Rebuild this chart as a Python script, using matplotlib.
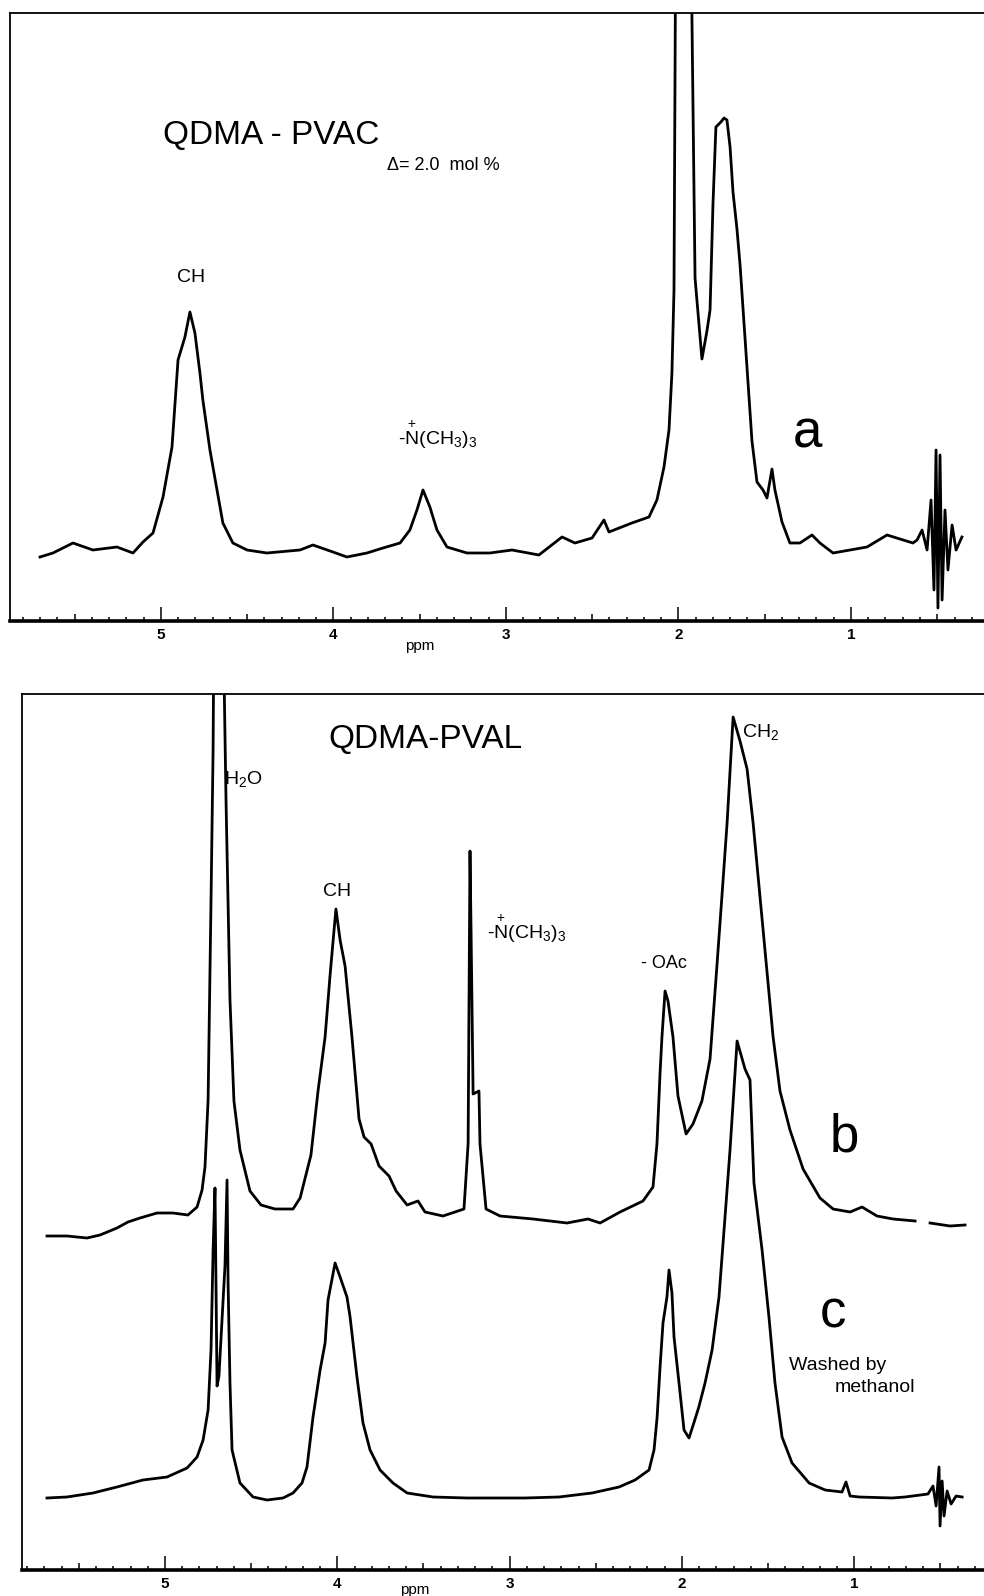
import numpy as np
import matplotlib
matplotlib.use('Agg')
import matplotlib.pyplot as plt
from matplotlib import font_manager
from matplotlib.ticker import MultipleLocator, FuncFormatter

# ---- spectrum a : QDMA-PVAC (ppm, intensity in arbitrary units) ----
ppm_a = [5.701, 5.626, 5.510, 5.394, 5.255, 5.162, 5.104, 5.046, 4.988, 4.936,
         4.901, 4.861, 4.832, 4.803, 4.774, 4.757, 4.716, 4.675, 4.641, 4.583,
         4.501, 4.386, 4.194, 4.119, 4.003, 3.922, 3.806, 3.713, 3.614, 3.557,
         3.516, 3.481, 3.441, 3.400, 3.342, 3.226, 3.093, 2.965, 2.809, 2.675,
         2.600, 2.501, 2.432, 2.403, 2.270, 2.171, 2.125, 2.084, 2.055, 2.038,
         2.026, 2.014, 1.933, 1.922, 1.904, 1.864, 1.835, 1.817, 1.800, 1.783,
         1.754, 1.736, 1.719, 1.701, 1.684, 1.661, 1.643, 1.603, 1.574, 1.545,
         1.510, 1.487, 1.458, 1.441, 1.400, 1.354, 1.296, 1.226, 1.180, 1.104,
         0.907, 0.791, 0.716, 0.641, 0.617, 0.588, 0.559, 0.536, 0.519, 0.507,
         0.496, 0.484, 0.472, 0.455, 0.438, 0.414, 0.391, 0.357]
int_a = [63, 67, 77, 70, 73, 67, 78, 87, 123, 173,
         260, 283, 308, 287, 247, 220, 170, 130, 97, 77,
         70, 67, 70, 75, 68, 63, 67, 72, 77, 90,
         110, 130, 113, 90, 73, 67, 67, 70, 65, 83,
         77, 82, 100, 88, 97, 103, 120, 153, 190, 247,
         330, 760, 760, 602, 342, 261, 289, 310, 416, 493,
         498, 502, 500, 473, 428, 391, 355, 253, 179, 138,
         130, 122, 151, 130, 98, 77, 77, 85, 77, 67,
         73, 85, 81, 77, 80, 90, 70, 120, 30, 170,
         12, 165, 20, 110, 50, 95, 70, 83]

# ---- spectrum b : QDMA-PVAL ----
ppm_b = [5.685, 5.569, 5.453, 5.377, 5.279, 5.215, 5.145, 5.046, 4.954, 4.867,
         4.814, 4.785, 4.768, 4.750, 4.733, 4.721, 4.716, 4.663, 4.646, 4.623,
         4.600, 4.565, 4.507, 4.443, 4.362, 4.257, 4.216, 4.153, 4.112, 4.071,
         4.042, 4.019, 4.008, 3.984, 3.955, 3.915, 3.874, 3.845, 3.804, 3.758,
         3.700, 3.659, 3.595, 3.532, 3.491, 3.387, 3.265, 3.241, 3.230, 3.224,
         3.212, 3.178, 3.172, 3.137, 3.056, 2.864, 2.667, 2.545, 2.475, 2.359,
         2.226, 2.168, 2.145, 2.127, 2.116, 2.098, 2.081, 2.052, 2.023, 1.976,
         1.936, 1.884, 1.837, 1.797, 1.767, 1.738, 1.703, 1.663, 1.622, 1.587,
         1.529, 1.471, 1.431, 1.373, 1.297, 1.199, 1.123, 1.024, 0.955, 0.868,
         0.775, 0.647, 0.600, 0.560, 0.444, 0.357]
int_b = [330, 330, 328, 331, 338, 344, 348, 353, 353, 351,
         359, 376, 399, 466, 666, 816, 950, 950, 766, 566,
         465, 416, 375, 361, 357, 357, 368, 411, 475, 529,
         591, 636, 657, 626, 600, 529, 447, 429, 422, 400,
         390, 375, 361, 365, 354, 350, 357, 422, 715, 636,
         472, 475, 422, 357, 350, 347, 343, 347, 343, 354,
         365, 379, 422, 493, 529, 575, 565, 529, 470, 432,
         442, 465, 507, 600, 672, 743, 849, 825, 797, 743,
         636, 529, 475, 436, 397, 368, 357, 354, 359, 350,
         347, 345, np.nan, 343, 340, 341]

# ---- spectrum c : washed by methanol ----
ppm_c = [5.685, 5.569, 5.418, 5.279, 5.128, 4.988, 4.872, 4.814, 4.779, 4.750,
         4.733, 4.721, 4.710, 4.698, 4.687, 4.652, 4.640, 4.634, 4.623, 4.611,
         4.565, 4.489, 4.408, 4.315, 4.257, 4.205, 4.176, 4.141, 4.100, 4.071,
         4.054, 4.013, 3.984, 3.944, 3.926, 3.886, 3.851, 3.810, 3.752, 3.677,
         3.595, 3.445, 3.247, 3.102, 2.911, 2.713, 2.522, 2.365, 2.272, 2.191,
         2.162, 2.144, 2.127, 2.110, 2.087, 2.075, 2.058, 2.046, 2.017, 1.988,
         1.959, 1.931, 1.902, 1.866, 1.825, 1.785, 1.750, 1.721, 1.680, 1.634,
         1.605, 1.582, 1.535, 1.495, 1.460, 1.419, 1.361, 1.262, 1.169, 1.071,
         1.048, 1.024, 0.972, 0.781, 0.705, 0.572, 0.543, 0.525, 0.508, 0.502,
         0.490, 0.479, 0.461, 0.438, 0.409, 0.374]
int_c = [68, 69, 73, 79, 86, 89, 98, 109, 126, 156,
         216, 316, 378, 180, 190, 300, 386, 283, 183, 116,
         83, 69, 66, 68, 73, 83, 99, 149, 196, 223,
         266, 303, 289, 269, 249, 189, 143, 116, 96, 83,
         73, 69, 68, 68, 68, 69, 73, 79, 86, 96,
         116, 149, 199, 243, 269, 296, 273, 229, 183, 136,
         128, 143, 159, 183, 216, 269, 349, 416, 525, 497,
         486, 383, 316, 249, 183, 129, 103, 83, 76, 74,
         84, 70, 69, 68, 69, 72, 80, 60, 99, 40,
         85, 50, 75, 62, 70, 69]

W, H = 984, 1596
names = {f.name for f in font_manager.fontManager.ttflist}
SANS = 'Liberation Sans' if 'Liberation Sans' in names else 'DejaVu Sans'
NARROW = 'Liberation Sans Narrow' if 'Liberation Sans Narrow' in names else SANS
plt.rcParams['font.family'] = SANS
plt.rcParams['mathtext.fontset'] = 'custom'
plt.rcParams['mathtext.rm'] = SANS
plt.rcParams['mathtext.it'] = SANS + ':italic'
plt.rcParams['mathtext.bf'] = SANS + ':bold'

fig = plt.figure(figsize=(W / 100, H / 100), dpi=100)


def px_axes(left, top, right, bottom):
    return fig.add_axes([left / W, 1 - bottom / H, (right - left) / W, (bottom - top) / H])


def label(x, y, s, size, ha='left', va='center', **kw):
    fig.text(x / W, 1 - y / H, s, fontsize=size, ha=ha, va=va, **kw)


def style_axis(ax):
    ax.spines['right'].set_visible(False)
    ax.spines['left'].set_linewidth(1.3)
    ax.spines['top'].set_linewidth(1.3)
    ax.spines['bottom'].set_linewidth(2.6)
    ax.set_yticks([])
    ax.xaxis.set_major_locator(MultipleLocator(0.5))
    ax.xaxis.set_minor_locator(MultipleLocator(0.1))
    ax.xaxis.set_major_formatter(FuncFormatter(
        lambda v, p: '%d' % round(v) if abs(v - round(v)) < 1e-6 else ''))
    ax.tick_params(axis='x', which='both', direction='in', top=False, width=1.1,
                   color='black')
    ax.tick_params(axis='x', which='major', length=5, pad=5, labelsize=11)
    ax.tick_params(axis='x', which='minor', length=3)
    for lab in ax.get_xticklabels():
        lab.set_fontfamily(NARROW)
        lab.set_fontweight('bold')
    for loc, tick in zip(ax.xaxis.get_majorticklocs(), ax.xaxis.get_major_ticks()):
        if abs(loc - round(loc)) < 1e-6:
            tick.tick1line.set_markersize(10)


# top panel (a)
ax_a = px_axes(10, 13, 984, 621)
ax_a.plot(ppm_a, int_a, color='black', lw=2.0)
ax_a.set_xlim(5.875, 0.229)
ax_a.set_ylim(-1, 607)
style_axis(ax_a)

# bottom panel (b, c)
ax_bc = px_axes(22, 694, 984, 1570)
ax_bc.plot(ppm_b, int_b, color='black', lw=2.0)
ax_bc.plot(ppm_c, int_c, color='black', lw=2.0)
ax_bc.set_xlim(5.83, 0.247)
ax_bc.set_ylim(-4, 872)
style_axis(ax_bc)

nme = r'-$\overset{+}{\mathrm{N}}$(CH$_3$)$_3$'

# annotations, panel a
label(163, 135, 'QDMA - PVAC', 24)
label(387, 165, 'Δ= 2.0  mol %', 13)
label(191, 277, 'CH', 14, ha='center')
label(398, 445, nme, 14, va='baseline')
label(793, 447, 'a', 38, va='baseline')
label(420, 646, 'ppm', 11, ha='center')

# annotations, panel b/c
label(328, 740, 'QDMA-PVAL', 24)
label(224, 784, r'H$_2$O', 14, va='baseline')
label(337, 891, 'CH', 14, ha='center')
label(487, 939, nme, 14, va='baseline')
label(641, 964, '- OAc', 13)
label(742, 737, r'CH$_2$', 14, va='baseline')
label(830, 1151, 'b', 38, va='baseline')
label(820, 1328, 'c', 38, va='baseline')
label(789, 1365, 'Washed by', 14)
label(835, 1388, 'methanol', 14)
label(415, 1590, 'ppm', 11, ha='center')

fig.savefig('out.png', dpi=100)
